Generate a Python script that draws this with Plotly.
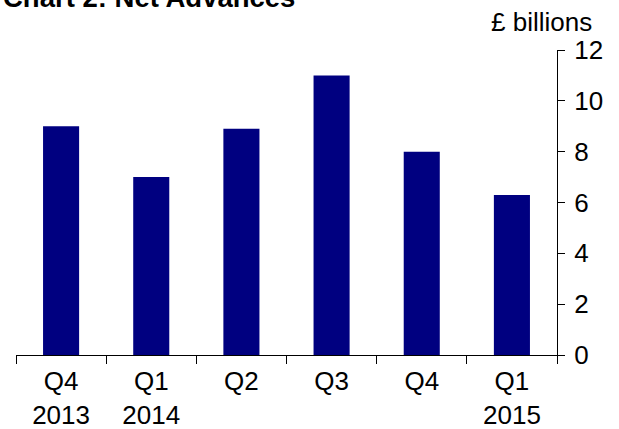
import plotly.graph_objects as go

categories = ["Q4<br>2013", "Q1<br>2014", "Q2", "Q3", "Q4", "Q1<br>2015"]
net_advances = [9.0, 7.0, 8.9, 11.0, 8.0, 6.3]
y_ticks = [0, 2, 4, 6, 8, 10, 12]

FONT = "Liberation Sans, Arial, sans-serif"

fig = go.Figure(go.Bar(
    x=categories,
    y=net_advances,
    marker=dict(color="#000080", line=dict(color="#000080", width=0)),
))

fig.update_layout(
    width=619, height=429,
    margin=dict(l=16, r=61.5, t=50, b=73.5),
    paper_bgcolor="white", plot_bgcolor="white",
    bargap=0.6,
    showlegend=False,
    font=dict(family=FONT, size=26, color="black"),
    xaxis=dict(
        automargin=False,
        showline=True, linecolor="black", linewidth=1,
        ticks="outside", tickson="boundaries", ticklen=8, tickcolor="black",
        ticklabelstandoff=3,
        showgrid=False, zeroline=False,
        tickfont=dict(family=FONT, size=26, color="black"),
    ),
    yaxis=dict(
        automargin=False,
        side="right", range=[0, 12], tickvals=y_ticks,
        showline=True, linecolor="black", linewidth=1,
        ticks="outside", ticklen=7, tickcolor="black",
        ticklabelstandoff=4,
        showgrid=False, zeroline=False,
        tickfont=dict(family=FONT, size=26, color="black"),
    ),
    annotations=[
        dict(text="<b>Chart 2: Net Advances</b>", xref="paper", yref="paper",
             x=0, y=1, xanchor="left", yanchor="bottom", xshift=-15, yshift=35,
             showarrow=False, font=dict(family=FONT, size=27.5, color="black")),
        dict(text="£ billions", xref="paper", yref="paper",
             x=1, y=1, xanchor="right", yanchor="middle", xshift=37, yshift=28,
             showarrow=False, font=dict(family=FONT, size=26, color="black")),
    ],
)

fig.write_html("out.html", config={"displayModeBar": False},
               post_script="document.body.style.margin='0';document.body.style.overflow='hidden';")
